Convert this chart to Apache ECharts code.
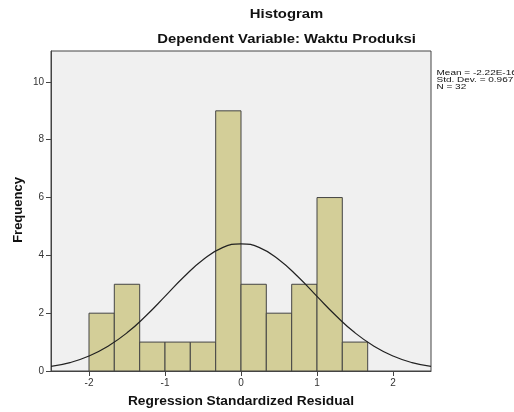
<!DOCTYPE html>
<html>
<head>
<meta charset="utf-8">
<script src="https://cdn.jsdelivr.net/npm/echarts@6/dist/echarts.min.js"></script>
<style>
  html, body { margin: 0; padding: 0; background: #fff; }
  #histChart { width: 514px; height: 412px; }
</style>
</head>
<body>
<div id="histChart"></div>
<script>
// bins (left edge, right edge) and frequencies
var binStart = [-2, -1.667, -1.333, -1, -0.667, -0.333, 0, 0.333, 0.667, 1, 1.333];
var binEnd = [-1.667, -1.333, -1, -0.667, -0.333, 0, 0.333, 0.667, 1, 1.333, 1.667];
var counts = [2, 3, 1, 1, 1, 9, 3, 2, 3, 6, 1];

// normal curve
var curveX = [-2.5, -2.25, -2, -1.75, -1.5, -1.25, -1, -0.75, -0.5, -0.25, 0, 0.25, 0.5, 0.75, 1, 1.25, 1.5, 1.75, 2, 2.25, 2.5];
var curveY = [0.16, 0.29, 0.52, 0.86, 1.32, 1.91, 2.58, 3.26, 3.85, 4.26, 4.4, 4.26, 3.85, 3.26, 2.58, 1.91, 1.32, 0.86, 0.52, 0.29, 0.16];

var xTicks = [-2, -1, 0, 1, 2];
var statLines = ['Mean = -2.22E-16', 'Std. Dev. = 0.967', 'N = 32'];

var font = '"Liberation Sans", Arial, sans-serif';

var barData = binStart.map(function (s, i) {
    return [s, binEnd[i], counts[i]];
});
var lineData = curveX.map(function (x, i) {
    return [x, curveY[i]];
});

// text in the picture is slightly stretched sideways
function wideText(str, x, y, size, bold, stretch) {
    return {
        type: 'text',
        x: x, y: y,
        scaleX: stretch,
        style: {
            text: str,
            font: (bold ? 'bold ' : '') + size + 'px ' + font,
            fill: '#111',
            align: 'center',
            verticalAlign: 'middle'
        }
    };
}

var myChart = echarts.init(document.getElementById('histChart'));

var option = {
    animation: false,
    backgroundColor: '#ffffff',
    textStyle: { fontFamily: font },
    grid: {
        left: 51, right: 83, top: 51, bottom: 41,
        show: true,
        backgroundColor: '#f0f0f0',
        borderColor: '#444',
        borderWidth: 1
    },
    xAxis: {
        type: 'value',
        min: -2.5, max: 2.5,
        splitLine: { show: false },
        axisLine: { show: true, onZero: false, lineStyle: { color: '#444' } },
        axisTick: { show: true, length: 5, customValues: xTicks, lineStyle: { color: '#444' } },
        axisLabel: { customValues: xTicks, fontSize: 10, color: '#333', margin: 7 }
    },
    yAxis: {
        type: 'value',
        min: 0, max: 11.07, interval: 2,
        splitLine: { show: false },
        axisLine: { show: true, onZero: false, lineStyle: { color: '#444' } },
        axisTick: { show: true, length: 5, lineStyle: { color: '#444' } },
        axisLabel: { fontSize: 10, color: '#333', margin: 7, showMaxLabel: false }
    },
    graphic: [
        wideText('Histogram', 286.5, 14, 13.5, true, 1.1),
        wideText('Dependent Variable: Waktu Produksi', 286.5, 39.5, 13.5, true, 1.1),
        wideText('Regression Standardized Residual', 241, 402, 12.5, true, 1.1),
        {
            type: 'text',
            x: 18.5, y: 210,
            rotation: Math.PI / 2,
            style: {
                text: 'Frequency',
                font: 'bold 13px ' + font,
                fill: '#111',
                align: 'center',
                verticalAlign: 'middle'
            }
        },
        {
            type: 'text',
            x: 436.5, y: 69,
            scaleX: 1.25,
            style: {
                text: statLines.join('\n'),
                font: '8px ' + font,
                lineHeight: 7,
                fill: '#111'
            }
        }
    ],
    series: [
        {
            name: 'Frequency',
            type: 'custom',
            renderItem: function (params, api) {
                var topLeft = api.coord([api.value(0), api.value(2)]);
                var botRight = api.coord([api.value(1), 0]);
                return {
                    type: 'rect',
                    shape: {
                        x: topLeft[0], y: topLeft[1],
                        width: botRight[0] - topLeft[0],
                        height: botRight[1] - topLeft[1]
                    },
                    style: { fill: '#d3ce98', stroke: '#444', lineWidth: 1 }
                };
            },
            encode: { x: [0, 1], y: 2 },
            data: barData,
            z: 2
        },
        {
            name: 'Normal',
            type: 'line',
            smooth: true,
            showSymbol: false,
            data: lineData,
            lineStyle: { color: '#222', width: 1.2 },
            z: 3
        }
    ]
};

myChart.setOption(option);
</script>
</body>
</html>
